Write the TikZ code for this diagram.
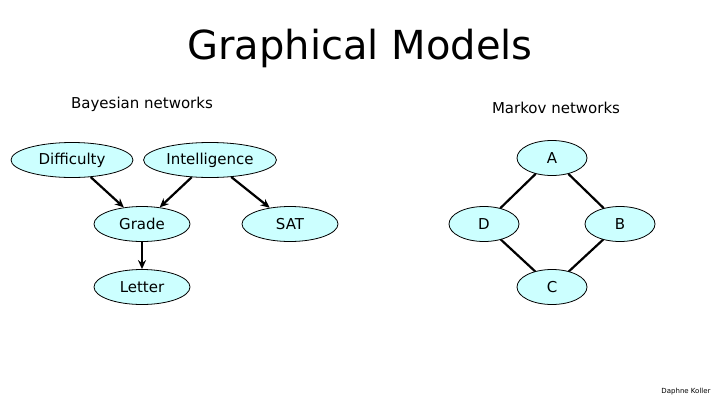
\documentclass[tikz,border=0pt]{standalone}
\usepackage{fontspec}
\setmainfont{DejaVu Sans}
\usetikzlibrary{shapes.geometric,arrows.meta}
\definecolor{nodefill}{HTML}{CCFFFF}
\begin{document}
\begin{tikzpicture}[x=1pt,y=-1pt,
  nd/.style={ellipse,draw=black,fill=nodefill,line width=0.8pt,minimum height=35pt,font=\fontsize{15}{17}\selectfont},
  arr/.style={-{Stealth[length=9pt,width=8pt]},line width=2.2pt},
  und/.style={line width=2.2pt}]
\useasboundingbox (0,0) rectangle (720,405);
\node (title) at (360,48) {\fontsize{40}{46}\selectfont Graphical Models};
\node (bn) at (142,104) {\fontsize{15}{17}\selectfont Bayesian networks};
\node (mn) at (556,108) {\fontsize{15}{17}\selectfont Markov networks};
\node[nd,minimum width=122pt] (diff) at (72,160) {Difficulty};
\node[nd,minimum width=125pt] (int) at (210,160) {Intelligence};
\node[nd,minimum width=96pt] (grade) at (142,224) {Grade};
\node[nd,minimum width=96pt] (sat) at (290,224) {SAT};
\node[nd,minimum width=96pt] (letter) at (142,287) {Letter};
\node[nd,minimum width=70pt] (A) at (552,158) {A};
\node[nd,minimum width=70pt] (D) at (484,224) {D};
\node[nd,minimum width=70pt] (B) at (620,224) {B};
\node[nd,minimum width=70pt] (C) at (552,287) {C};
\draw[arr] (diff) -- (grade);
\draw[arr] (int) -- (grade);
\draw[arr] (int) -- (sat);
\draw[arr] (grade) -- (letter);
\draw[und] (A) -- (D);
\draw[und] (A) -- (B);
\draw[und] (D) -- (C);
\draw[und] (B) -- (C);
\node (dk) at (686,392) {\fontsize{7}{8}\selectfont Daphne Koller};
\end{tikzpicture}
\end{document}
